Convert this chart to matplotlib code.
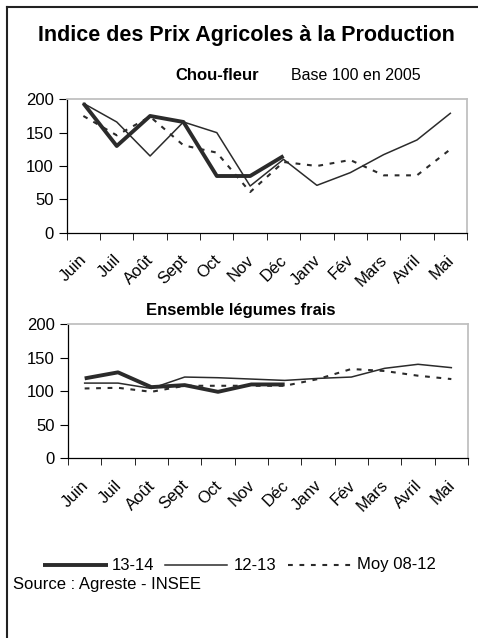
import matplotlib
matplotlib.use('Agg')
from matplotlib import pyplot as plt
from matplotlib.lines import Line2D
from matplotlib.ticker import FixedLocator, NullFormatter
from matplotlib.transforms import ScaledTranslation

plt.rcParams['font.family'] = ['Liberation Sans', 'DejaVu Sans']

months = ['Juin', 'Juil', 'Août', 'Sept', 'Oct', 'Nov', 'Déc',
          'Janv', 'Fév', 'Mars', 'Avril', 'Mai']

# Chou-fleur
chou_1314 = [194, 130, 175, 166, 85, 85, 115]
chou_1213 = [194, 166, 115, 166, 150, 70, 110, 71, 90, 117, 139, 179]
chou_moy = [175, 146, 174, 131, 120, 61, 106, 100, 109, 86, 86, 125]

# Ensemble légumes frais
leg_1314 = [119, 128, 106, 109, 99, 110, 110]
leg_1213 = [112, 112, 104, 121, 120, 118, 116, 119, 121, 134, 140, 135]
leg_moy = [104, 105, 99, 108, 108, 108, 108, 118, 133, 130, 123, 118]

W, H = 478, 638
LINE_COL = '#2b2b2b'
styles = {
    '13-14': dict(color=LINE_COL, lw=2.8, solid_capstyle='butt'),
    '12-13': dict(color=LINE_COL, lw=1.1),
    'Moy 08-12': dict(color=LINE_COL, lw=1.5, linestyle=(0, (2.3, 3.2))),
}


def px(x, y):
    return x / W, 1 - y / H


def draw_panel(fig, ax, s1314, s1213, smoy):
    ax.plot(range(len(smoy)), smoy, **styles['Moy 08-12'])
    ax.plot(range(len(s1213)), s1213, **styles['12-13'])
    ax.plot(range(len(s1314)), s1314, **styles['13-14'])
    ax.set_xlim(-0.5, len(months) - 0.5)
    ax.set_ylim(0, 200)
    ax.set_yticks([0, 50, 100, 150, 200])
    ax.tick_params(axis='y', labelsize=12, length=6, direction='out', pad=3.5)
    ax.set_xticks(range(len(months)))
    ax.set_xticklabels(months, rotation=45, ha='right', va='top',
                       rotation_mode='anchor', fontsize=12)
    ax.tick_params(axis='x', which='major', length=0, pad=14)
    shift = ScaledTranslation(-4 / 100, 0, fig.dpi_scale_trans)
    for lab in ax.get_xticklabels():
        lab.set_transform(lab.get_transform() + shift)
    ax.xaxis.set_minor_locator(FixedLocator([i - 0.5 for i in range(len(months) + 1)]))
    ax.xaxis.set_minor_formatter(NullFormatter())
    ax.tick_params(axis='x', which='minor', length=5, direction='out')
    for side in ('top', 'right'):
        ax.spines[side].set_color('#c0c0c0')
        ax.spines[side].set_linewidth(1.3)
    for side in ('left', 'bottom'):
        ax.spines[side].set_color('black')
        ax.spines[side].set_linewidth(0.9)


fig = plt.figure(figsize=(W / 100, H / 100), dpi=100)

# outer frame (cut off at right and bottom)
fig.add_artist(Line2D([6.5 / W, 6.5 / W], [0, 1 - 7 / H], color='#222222', lw=1.5,
                      transform=fig.transFigure))
fig.add_artist(Line2D([6.5 / W, 1], [1 - 7 / H, 1 - 7 / H], color='#222222', lw=1.5,
                      transform=fig.transFigure))

ax1 = fig.add_axes([66.7 / W, 1 - 232.7 / H, 400.3 / W, 133.4 / H])
draw_panel(fig, ax1, chou_1314, chou_1213, chou_moy)

ax2 = fig.add_axes([68 / W, 1 - 458.3 / H, 400 / W, 134.3 / H])
draw_panel(fig, ax2, leg_1314, leg_1213, leg_moy)

fig.text(*px(246, 35), 'Indice des Prix Agricoles à la Production', ha='center', va='center',
         fontsize=15.5, fontweight='bold')
fig.text(*px(217, 75), 'Chou-fleur', ha='center', va='center', fontsize=12, fontweight='bold')
fig.text(*px(356, 75), 'Base 100 en 2005', ha='center', va='center', fontsize=11.5)
fig.text(*px(241, 310), 'Ensemble légumes frais', ha='center', va='center', fontsize=12,
         fontweight='bold')

# legend drawn by hand in the style of the source
legend_y = 565
items = [('13-14', 43, 108, 112), ('12-13', 165, 227, 234), ('Moy 08-12', 288, 355, 357)]
for name, x0, x1, xt in items:
    fig.add_artist(Line2D([x0 / W, x1 / W], [1 - legend_y / H] * 2,
                          transform=fig.transFigure, **styles[name]))
    fig.text(*px(xt, legend_y), name, ha='left', va='center', fontsize=12)

fig.text(*px(13, 584), 'Source : Agreste - INSEE', ha='left', va='center', fontsize=12)

fig.savefig('out.png', dpi=100)
